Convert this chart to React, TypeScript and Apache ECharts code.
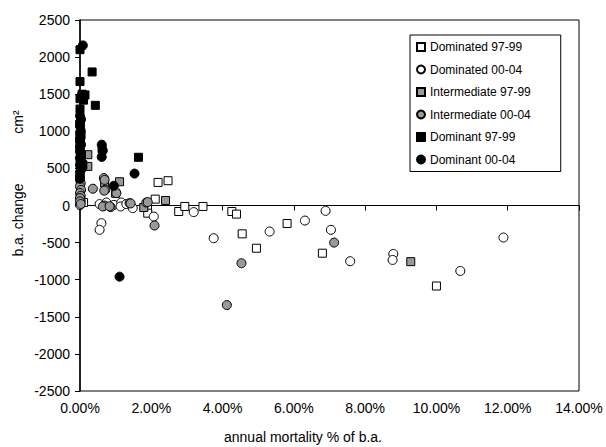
import React, { useEffect, useRef } from "react";
import * as echarts from "echarts";

const FONT = "'Liberation Sans', Arial, sans-serif";

const seriesNames = [
  "Dominated 97-99",
  "Dominated 00-04",
  "Intermediate 97-99",
  "Intermediate 00-04",
  "Dominant 97-99",
  "Dominant 00-04",
];

// x = annual mortality (% of b.a.), y = b.a. change (cm²)
const dominated9799 = [
  [0.1, 40], [1.9, -103], [2.11, 86], [2.19, 311], [2.47, 334], [2.77, -81],
  [2.94, -13], [3.45, -13], [4.26, -81], [4.39, -116], [4.55, -382], [4.95, -576],
  [5.81, -243], [6.8, -643], [10.0, -1085],
];

const dominated0004 = [
  [0.0, 5], [0.02, 60], [0.55, 19], [0.6, -238], [0.55, -328], [0.74, 40],
  [0.95, 8], [1.16, 40], [1.14, -13], [1.3, 20], [1.48, -35], [2.07, -149],
  [3.19, -89], [3.75, -441], [5.32, -351], [6.31, -203], [6.89, -72], [7.04, -328],
  [7.58, -751], [8.79, -653], [8.77, -734], [10.67, -882], [11.88, -432],
];

const intermediate9799 = [
  [0.22, 685], [0.22, 527], [0.69, 305], [1.11, 320], [1.0, 165], [2.4, 68],
  [1.79, -27], [9.28, -757],
];

const intermediate0004 = [
  [0.0, 347], [0.02, 300], [0.0, 257], [0.03, 210], [0.0, 168], [0.02, 130],
  [0.0, 100], [0.0, 55], [0.02, 20], [0.36, 226], [0.67, 370], [0.69, 345],
  [0.71, 212], [0.68, 200], [1.02, 167], [0.69, 0], [0.64, -13], [0.86, -22],
  [0.83, -10], [1.39, 32], [1.42, 28], [1.86, 40], [1.9, 46], [2.09, -270],
  [4.53, -778], [4.12, -1342], [7.13, -500],
];

const dominant9799 = [
  [0.0, 2100], [0.34, 1800], [0.0, 1670], [0.06, 1500], [0.14, 1490], [0.0, 1440],
  [0.1, 1420], [0.43, 1350], [0.0, 1300], [0.0, 1100], [0.03, 950], [0.0, 850],
  [0.0, 760], [0.04, 680], [0.0, 600], [0.08, 550], [0.62, 760], [1.64, 650],
];

const dominant0004 = [
  [0.08, 2158], [0.05, 1490], [0.0, 1210], [0.03, 1160], [0.0, 1120], [0.0, 1070],
  [0.02, 1010], [0.0, 970], [0.0, 910], [0.0, 870], [0.03, 820], [0.0, 790],
  [0.0, 730], [0.02, 690], [0.0, 640], [0.04, 590], [0.0, 540], [0.06, 500],
  [0.0, 450], [0.0, 400], [0.0, 360], [0.61, 820], [0.64, 740], [0.61, 654],
  [1.53, 430], [0.95, 266], [1.11, -959],
];

const seriesData = [
  dominated9799, dominated0004, intermediate9799, intermediate0004, dominant9799, dominant0004,
];
const seriesSymbols = ["rect", "circle", "rect", "circle", "rect", "circle"];
const seriesFills = ["#ffffff", "#ffffff", "#999999", "#999999", "#000000", "#000000"];

export default function App() {
  const ref = useRef<HTMLDivElement>(null);
  useEffect(() => {
    document.body.style.margin = "0";
    const chart = echarts.init(ref.current!, null, { renderer: "svg" });
    chart.setOption({
      animation: false,
      textStyle: { fontFamily: FONT },
      grid: {
        left: 80, top: 20, width: 499, height: 371,
        show: true, borderColor: "#000", borderWidth: 1, backgroundColor: "transparent",
      },
      legend: {
        orient: "vertical",
        left: 410, top: 35,
        borderColor: "#000", borderWidth: 1,
        padding: [6, 30, 6, 6],
        itemWidth: 8, itemHeight: 8, itemGap: 10.5,
        textStyle: { fontSize: 12, color: "#000", fontFamily: FONT },
        data: seriesNames.map((n, i) => ({ name: n, icon: seriesSymbols[i] })),
      },
      xAxis: [
        {
          type: "value", min: 0, max: 14, interval: 2, position: "bottom",
          axisLine: { show: false, onZero: false },
          axisTick: { show: false },
          splitLine: { show: false },
          axisLabel: {
            color: "#000", fontSize: 14, fontFamily: FONT, margin: 10,
            formatter: (v: number) => v.toFixed(2) + "%",
          },
        },
        {
          type: "value", min: 0, max: 14, interval: 2, position: "bottom",
          axisLine: { show: true, onZero: true, lineStyle: { color: "#000", width: 1 } },
          axisTick: { show: true, inside: false, length: 5, lineStyle: { color: "#000" } },
          axisLabel: { show: false },
          splitLine: { show: false },
        },
      ],
      yAxis: {
        type: "value", min: -2500, max: 2500, interval: 500,
        axisLine: { show: true, lineStyle: { color: "#000", width: 1.5 } },
        axisTick: { show: true, inside: false, length: 5, lineStyle: { color: "#000" } },
        axisLabel: {
          color: "#000", fontSize: 14, fontFamily: FONT, margin: 10,
          formatter: (v: number) => String(v),
        },
        splitLine: { show: false },
      },
      graphic: [
        {
          type: "text", x: 18, y: 220, rotation: Math.PI / 2,
          style: { text: "b.a. change", font: `14px ${FONT}`, fill: "#000", align: "center", verticalAlign: "middle" },
        },
        {
          type: "text", x: 18, y: 122, rotation: Math.PI / 2,
          style: { text: "cm²", font: `14px ${FONT}`, fill: "#000", align: "center", verticalAlign: "middle" },
        },
        {
          type: "text", x: 303, y: 437,
          style: { text: "annual mortality % of b.a.", font: `14px ${FONT}`, fill: "#000", align: "center", verticalAlign: "middle" },
        },
      ],
      series: seriesNames.map((n, i) => ({
        name: n,
        type: "scatter",
        xAxisIndex: 0,
        symbol: seriesSymbols[i],
        symbolSize: seriesSymbols[i] === "rect" ? 8 : 9,
        itemStyle: { color: seriesFills[i], borderColor: "#000", borderWidth: 1, opacity: 1 },
        data: seriesData[i],
        z: 2 + i,
      })),
    });
    return () => chart.dispose();
  }, []);
  return <div ref={ref} style={{ width: 606, height: 447 }} />;
}
